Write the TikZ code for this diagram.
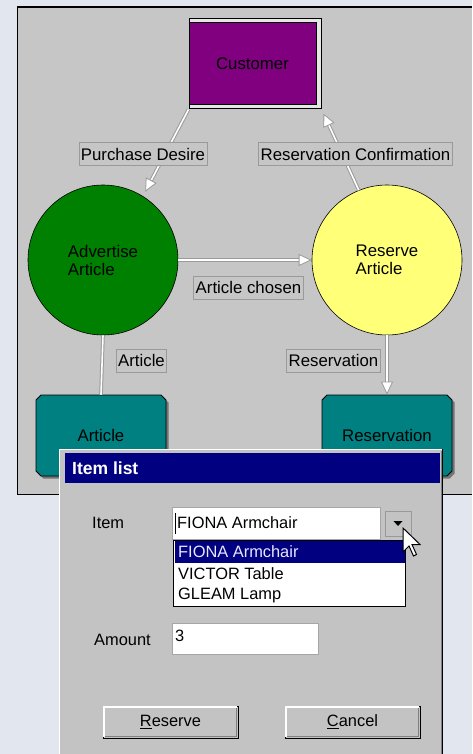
\documentclass[tikz,border=0pt]{standalone}
\usepackage{fontspec}
\setmainfont{Liberation Sans}
\usetikzlibrary{shapes.geometric,shapes.misc,shadows,calc,arrows.meta}
\definecolor{bgc}{HTML}{E2E6EE}
\definecolor{panel}{HTML}{C6C6C6}
\definecolor{purp}{HTML}{800080}
\definecolor{grn}{HTML}{008000}
\definecolor{yel}{HTML}{FFFF78}
\definecolor{tealc}{HTML}{008080}
\definecolor{navyc}{HTML}{000080}
\definecolor{lblline}{HTML}{9A9A9A}
\definecolor{dlg}{HTML}{C3C3C3}
\definecolor{custback}{HTML}{E6E6E6}
\definecolor{selt}{HTML}{E8E8FF}
\tikzset{
  conn/.style={draw=lblline, double=white, double distance=1.6pt, line width=1pt},
  tipa/.style={-{Triangle[length=13pt,width=12pt,fill=white,line width=0.8pt]}},
  lbl/.style={draw=lblline, fill=panel, line width=0.8pt, inner xsep=2pt, inner ysep=0pt, minimum height=23pt},
  proc/.style={circle, draw=black, line width=0.6pt, minimum size=150pt, inner sep=0pt, align=left},
  store/.style={chamfered rectangle, chamfered rectangle xsep=2.5pt, chamfered rectangle ysep=2.5pt,
    draw=black, line width=0.8pt, fill=tealc, minimum width=130pt, minimum height=81pt, inner sep=0pt,
    drop shadow={shadow xshift=2.5pt, shadow yshift=-2.5pt, fill=black!55, opacity=1}},
  dtext/.style={font=\fontsize{16.4}{18}\selectfont, inner sep=0pt},
  field/.style={draw=gray!70, fill=white, line width=0.8pt, inner sep=0pt},
  btn/.style={draw=black, fill=dlg, line width=1pt, minimum width=135pt, minimum height=32pt, inner sep=0pt, font=\fontsize{16.4}{18}\selectfont}
}
\begin{document}
\begin{tikzpicture}[x=1pt,y=-1pt,font=\fontsize{16.8}{18}\selectfont]
\useasboundingbox (0,0) rectangle (472,754);
\fill[bgc] (0,0) rectangle (472,754);
% panel
\fill[panel] (17,6) rectangle (472,495);
\draw[line width=1.5pt] (472,6.8) -- (17.6,6.8) -- (17.6,494.4) -- (472,494.4);
% customer
\node[draw=black, fill=custback, line width=1pt, minimum width=132pt, minimum height=90pt, inner sep=0pt] (custout) at (255,64) {};
\node[draw=black, fill=purp, line width=1pt, minimum width=127pt, minimum height=82pt, inner sep=0pt, text width=127pt, align=center, xshift=-4pt] (cust) at (256.5,64) {Customer};
% processes
\node[proc, fill=grn] (adv) at (103,260) {Advertise\\Article};
\node[proc, fill=yel] (res) at (387,260) {Reserve\\Article};
% stores
\node[store] (art) at (101,435.5) {Article};
\node[store] (resv) at (387,435.5) {Reservation};
% connectors
\coordinate (t1) at ($(adv.58)+(2.3,-4.4)$);
\coordinate (t2) at ($(custout.south east)+(2,4)$);
\draw[conn, tipa] (custout.south west) -- (t1);
\draw[conn, tipa] (res.112) -- (t2);
\draw[conn, tipa] (adv.east) -- (res.west);
\draw[conn] (adv.south) -- (art.north);
\draw[conn, tipa] (res.south) -- (resv.north);
% labels
\node[lbl] (l1) at (143,154) {Purchase Desire};
\node[lbl] (l2) at (355.5,154) {Reservation Confirmation};
\node[lbl] (l3) at (248.5,287.5) {Article chosen};
\node[lbl] (l4) at (141.5,360.5) {Article};
\node[lbl] (l5) at (333.5,360.5) {Reservation};
% dialog
\fill[dlg] (59,449) rectangle (443,760);
\draw[white, line width=1.2pt] (59.6,760) -- (59.6,449.6) -- (442,449.6);
\draw[gray, line width=1pt] (441,451) -- (441,760);
\draw[black, line width=1.2pt] (442.8,449) -- (442.8,760);
\node[fill=navyc, minimum width=375pt, minimum height=30pt, inner sep=0pt] (title) at (252.5,468) {};
\node[anchor=west, text=white, inner sep=0pt, font=\fontsize{17.5}{18}\selectfont\bfseries] (ttl) at (72,468) {Item list};
% item
\node[dtext, anchor=west] (itemlbl) at (92,523) {Item};
\node[field, minimum width=208pt, minimum height=32pt] (itemf) at (276,523) {};
\draw[black, line width=0.8pt] (175.5,513) -- (175.5,534);
\node[dtext, anchor=west] (itemtxt) at (177,523) {FIONA Armchair};
\node[draw=gray!80, fill=dlg, line width=1pt, minimum width=26pt, minimum height=25pt, inner sep=0pt] (ddb) at (398,523.5) {};
\fill[black] (393.5,521) -- (402.5,521) -- (398,526) -- cycle;
% list
\node[draw=black, fill=white, line width=1pt, minimum width=232pt, minimum height=66pt, inner sep=0pt] (lst) at (289,573) {};
\fill[navyc] (174.5,541) rectangle (404.5,563);
\node[dtext, anchor=west, text=selt] (o1) at (178,552) {FIONA Armchair};
\node[dtext, anchor=west] (o2) at (178,574) {VICTOR Table};
\node[dtext, anchor=west] (o3) at (178,595) {GLEAM Lamp};
% pointer
\filldraw[fill=white, draw=black, line width=1pt, line join=miter] (403,528) -- ++(0,24) -- ++(6,-6) -- ++(4.5,10) -- ++(3,-1.5) -- ++(-4.5,-10) -- ++(8,0) -- cycle;
% amount
\node[dtext, anchor=west] (amlbl) at (94,640) {Amount};
\node[field, minimum width=146pt, minimum height=31pt] (amf) at (245,638.5) {};
\node[dtext, anchor=west] (amtxt) at (175,636) {3};
% buttons
\node[btn] (bres) at (170.5,722) {\underline{R}eserve};
\node[btn] (bcan) at (352.5,722) {\underline{C}ancel};
\draw[white, line width=1.4pt] ($(bres.south west)+(1.5,-2)$) -- ($(bres.north west)+(1.5,1.5)$) -- ($(bres.north east)+(-2,1.5)$);
\draw[gray, line width=1.2pt] ($(bres.south west)+(2,-1.8)$) -- ($(bres.south east)+(-1.8,-1.8)$) -- ($(bres.north east)+(-1.8,2)$);
\draw[white, line width=1.4pt] ($(bcan.south west)+(1.5,-2)$) -- ($(bcan.north west)+(1.5,1.5)$) -- ($(bcan.north east)+(-2,1.5)$);
\draw[gray, line width=1.2pt] ($(bcan.south west)+(2,-1.8)$) -- ($(bcan.south east)+(-1.8,-1.8)$) -- ($(bcan.north east)+(-1.8,2)$);
\end{tikzpicture}
\end{document}
